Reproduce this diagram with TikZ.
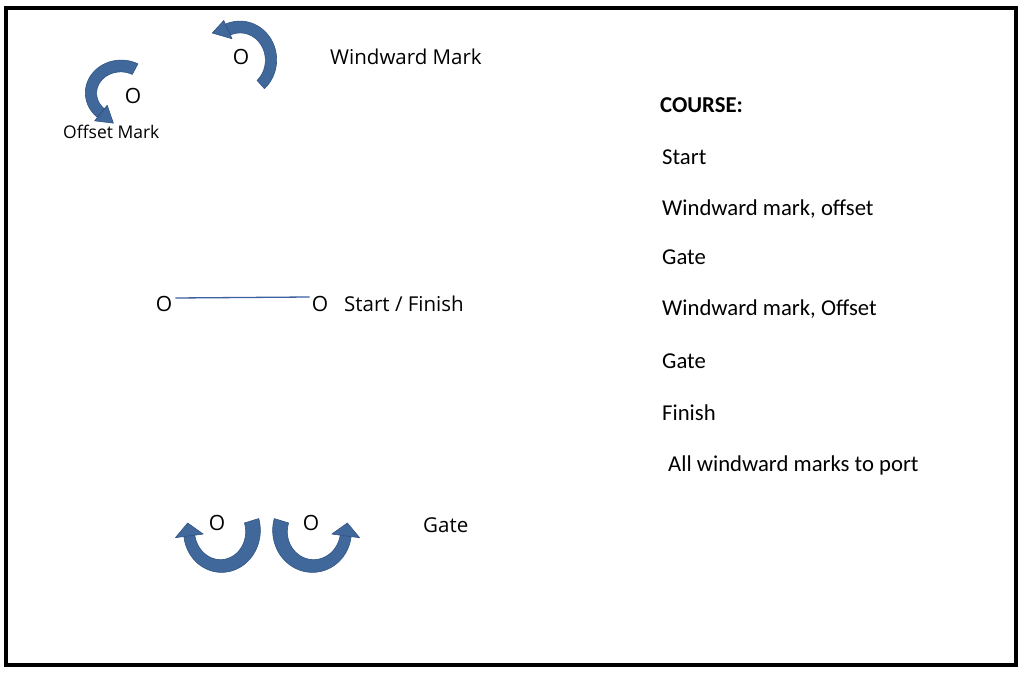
\documentclass[tikz,border=0pt]{standalone}
\usepackage{fontspec}
\setmainfont{Open Sans}
\newfontfamily\calfont{Carlito}
\definecolor{arrowblue}{RGB}{64,104,154}
\definecolor{arrowedge}{RGB}{50,85,132}
\definecolor{linkblue}{RGB}{60,95,160}
% head parameters, set before each call
\def\hrot{0}\def\hlen{15}\def\hwid{10}
\newcommand\curlarrow[9]{%
  % #1 cx #2 cy (image coords, y down) #3 rx #4 ry #5 tail angle #6 head-base angle
  % #7 tail width #8 head width #9 direction (+1 ccw, -1 cw)
  \pgfmathsetmacro\Bx{#1+#3*cos(#6)}%
  \pgfmathsetmacro\By{-#2+#4*sin(#6)}%
  \pgfmathsetmacro\Tx{(#9)*(-1)*#3*sin(#6)}%
  \pgfmathsetmacro\Ty{(#9)*#4*cos(#6)}%
  \pgfmathsetmacro\Tn{sqrt((\Tx)*(\Tx)+(\Ty)*(\Ty))}%
  \pgfmathsetmacro\ux{(\Tx)/\Tn}%
  \pgfmathsetmacro\uy{(\Ty)/\Tn}%
  \pgfmathsetmacro\tx{(\ux)*cos(\hrot)-(\uy)*sin(\hrot)}%
  \pgfmathsetmacro\ty{(\ux)*sin(\hrot)+(\uy)*cos(\hrot)}%
  \fill[arrowblue,draw=arrowedge,line width=0.6pt,line join=round]
    plot[domain=#5:#6,samples=50,variable=\t]
      ({#1+(#3+((#7)+((#8)-(#7))*(\t-(#5))/((#6)-(#5)))/2)*cos(\t)},
       {-#2+(#4+((#7)+((#8)-(#7))*(\t-(#5))/((#6)-(#5)))/2)*sin(\t)})
    -- ({\Bx-\hwid*(\uy)*(#9)},{\By+\hwid*(\ux)*(#9)})
    -- ({\Bx+\hlen*(\tx)},{\By+\hlen*(\ty)})
    -- ({\Bx+\hwid*(\uy)*(#9)},{\By-\hwid*(\ux)*(#9)})
    -- plot[domain=#6:#5,samples=50,variable=\t]
      ({#1+(#3-((#7)+((#8)-(#7))*(\t-(#5))/((#6)-(#5)))/2)*cos(\t)},
       {-#2+(#4-((#7)+((#8)-(#7))*(\t-(#5))/((#6)-(#5)))/2)*sin(\t)})
    -- cycle;
}
\tikzset{
  markO/.style={font=\fontsize{21}{21}\selectfont, inner sep=0pt},
  lbl/.style={font=\fontsize{20.5}{20.5}\selectfont, inner sep=0pt, anchor=west},
  small/.style={font=\fontsize{17.5}{17.5}\selectfont, inner sep=0pt, anchor=west},
  course/.style={font=\calfont\fontsize{22.7}{22.7}\selectfont, inner sep=0pt, anchor=west},
  coursehead/.style={font=\calfont\bfseries\fontsize{22.7}{22.7}\selectfont, inner sep=0pt, anchor=west},
}
\begin{document}
\begin{tikzpicture}[x=1pt,y=1pt]
\useasboundingbox (0,0) rectangle (1024,-676);
\fill[white] (0,0) rectangle (1024,-676);
\draw[line width=3.5pt] (6,-8) rectangle (1016,-665);

% curved arrows
\def\hrot{-12}\def\hlen{16}\def\hwid{10}
\curlarrow{240}{60}{31}{33}{-48}{113}{11}{12}{1}
\def\hrot{0}\def\hlen{16}\def\hwid{10}
\curlarrow{121}{93}{30}{27}{62}{228}{12}{11}{1}
\def\hrot{0}\def\hlen{13}\def\hwid{14}
\curlarrow{221}{531}{32}{35}{17}{-172}{15}{11}{-1}
\curlarrow{313}{531}{33}{35}{163}{352}{15}{11}{1}

% marks
\node[markO] (ww) at (241,-57) {O};
\node[markO] (off) at (133,-96) {O};
\node[markO] (s1) at (164,-304) {O};
\node[markO] (s2) at (320,-304) {O};
\node[markO] (g1) at (217,-523) {O};
\node[markO] (g2) at (311,-523) {O};
\draw[linkblue,line width=1.3pt] ([shift={(3,6)}]s1.east) -- ([shift={(-2,7)}]s2.west);

% labels
\node[lbl] (lww) at (330,-57) {Windward Mark};
\node[small] (loff) at (63,-132) {Offset Mark};
\node[lbl] (lsf) at (344,-304) {Start / Finish};
\node[lbl] (lg) at (423,-525) {Gate};

% course
\node[coursehead] (c0) at (660,-105) {COURSE:};
\node[course] (c1) at (662,-157) {Start};
\node[course] (c2) at (662,-209) {Windward mark, offset};
\node[course] (c3) at (662,-257) {Gate};
\node[course] (c4) at (662,-309) {Windward mark, Offset};
\node[course] (c5) at (662,-361) {Gate};
\node[course] (c6) at (662,-413) {Finish};
\node[course] (c7) at (668,-465) {All windward marks to port};
\end{tikzpicture}
\end{document}
